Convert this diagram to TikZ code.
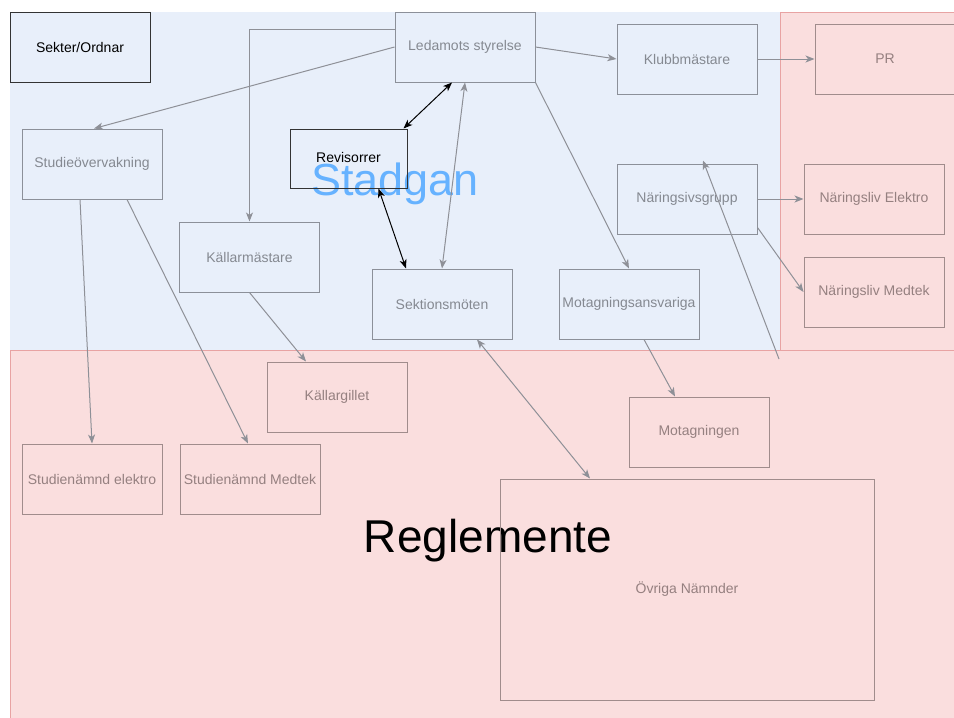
\documentclass[tikz,border=0pt]{standalone}
\usepackage{fontspec}
\setmainfont{Liberation Sans}
\usetikzlibrary{arrows.meta}
\definecolor{bluebg}{HTML}{E8EFFA}
\definecolor{pinkbg}{HTML}{FADEDE}
\definecolor{pinkline}{HTML}{E8A3A3}
\definecolor{boxgray}{HTML}{8C9099}
\definecolor{txtgray}{HTML}{858991}
\definecolor{pboxgray}{HTML}{A08C8C}
\definecolor{ptxtgray}{HTML}{958080}
\definecolor{linegray}{HTML}{8E9097}
\definecolor{stadblue}{HTML}{66B2FF}

\begin{document}
\begin{tikzpicture}[x=1pt,y=-1pt,
  box/.style={draw=boxgray,line width=1pt,text=txtgray,minimum width=140pt,minimum height=70pt,inner sep=0pt,font=\fontsize{14}{16}\selectfont},
  pbox/.style={box,draw=pboxgray,text=ptxtgray},
  kbox/.style={box,draw=black!80,text=black},
  conn/.style={draw=linegray,line width=1pt,-{Stealth[length=9pt,width=7pt,inset=2.5pt]}},
  bconn/.style={conn,{Stealth[length=9pt,width=7pt,inset=2.5pt]}-{Stealth[length=9pt,width=7pt,inset=2.5pt]}},
  kconn/.style={bconn,draw=black}]
\useasboundingbox (0,0) rectangle (954,718);
\fill[pinkbg] (10,350) rectangle (960,724);
\draw[pinkline,line width=1pt] (10,724) -- (10,350) -- (960,350);
\fill[bluebg] (10,12) rectangle (780,350);
\fill[pinkbg] (780,12) rectangle (960,350);
\draw[pinkline,line width=1pt] (780,350) -- (780,12) -- (960,12);

\node[text=stadblue,font=\fontsize{45}{50}\selectfont,anchor=base] (stadgan) at (395,195) {Stadgan};
\node[text=black,font=\fontsize{46}{50}\selectfont,anchor=base] (reglemente) at (488,552) {Reglemente};

\node[kbox] (sekter) at (80,47) {Sekter/Ordnar};
\node[box] (led) at (465,47) {Ledamots styrelse};
\node[box] (klubb) at (687,59) {Klubbmästare};
\node[pbox] (pr) at (885,59) {PR};
\node[box] (studie) at (92,164) {Studieövervakning};
\node[kbox,minimum width=117pt,minimum height=59pt] (revis) at (348.5,158.5) {\raisebox{3pt}{Revisorrer}};
\node[box] (kallm) at (249.5,257) {Källarmästare};
\node[box] (sekt) at (442,304) {Sektionsmöten};
\node[box] (naring) at (687,199) {Näringsivsgrupp};
\node[box] (motans) at (629,304) {Motagningsansvariga};
\node[pbox] (nelek) at (874,199) {Näringsliv Elektro};
\node[pbox] (nmed) at (874,292) {Näringsliv Medtek};
\node[pbox] (kallg) at (337,397) {Källargillet};
\node[pbox] (stel) at (92,479) {Studienämnd elektro};
\node[pbox] (stmed) at (250,479) {Studienämnd Medtek};
\node[pbox] (motag) at (699,432) {Motagningen};
\node[pbox,minimum width=374pt,minimum height=221pt] (ovriga) at (687,589.5) {Övriga Nämnder};
\coordinate (fri) at (779,359);

\draw[conn] (led.west) -- ([xshift=2pt]studie.north);
\draw[conn] ([yshift=18pt]led.west) -| (kallm.north);
\draw[kconn] ([xshift=-13pt]led.south) -- ([xshift=-4pt]revis.north east);
\draw[kconn] ([xshift=30pt]revis.south) -- ([xshift=-36pt]sekt.north);
\draw[bconn] (led.south) -- (sekt.north);
\draw[conn] (led.east) -- (klubb.west);
\draw[conn] (klubb.east) -- (pr.west);
\draw[conn] (led.south east) -- (motans.north);
\draw[conn] (naring.east) -- (nelek.west);
\draw[conn] ([yshift=7pt]naring.south east) -- (nmed.west);
\draw[conn] (fri) -- ([xshift=16pt,yshift=3pt]naring.north);
\draw[conn] ([xshift=-12pt]studie.south) -- (stel.north);
\draw[conn] ([xshift=35pt]studie.south) -- ([xshift=-2pt]stmed.north);
\draw[conn] (kallm.south) -- ([xshift=-31pt]kallg.north);
\draw[bconn] ([xshift=35pt]sekt.south) -- ([xshift=-97pt]ovriga.north);
\draw[conn] ([xshift=15pt]motans.south) -- ([xshift=-24pt]motag.north);
\end{tikzpicture}
\end{document}
